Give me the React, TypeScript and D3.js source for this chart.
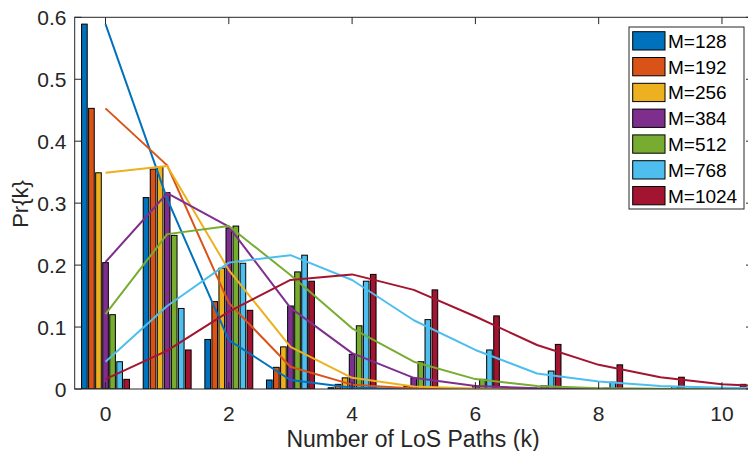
import React from "react";
import * as d3 from "d3";

// Number of LoS paths k (bar groups) and the k values used for the analytic curves
const kBars = [0, 1, 2, 3, 4, 5, 6, 7, 8, 9, 10];
const kLines = [0, 1, 2, 3, 4, 5, 6, 7, 8, 9, 10, 11];

const seriesNames = ["M=128", "M=192", "M=256", "M=384", "M=512", "M=768", "M=1024"];
const seriesColors = ["#0072BD", "#D95319", "#EDB120", "#7E2F8E", "#77AC30", "#4DBEEE", "#A2142F"];

// Simulated Pr{k} (bars)
const simM128 = [0.589, 0.309, 0.08, 0.0145, 0.002, 0.0003, 0, 0, 0, 0, 0];
const simM192 = [0.453, 0.355, 0.141, 0.035, 0.0075, 0.0012, 0.0002, 0, 0, 0, 0];
const simM256 = [0.349, 0.359, 0.195, 0.068, 0.018, 0.004, 0.0008, 0.0001, 0, 0, 0];
const simM384 = [0.204, 0.317, 0.26, 0.134, 0.056, 0.018, 0.005, 0.0012, 0.0003, 0, 0];
const simM512 = [0.12, 0.248, 0.263, 0.189, 0.102, 0.044, 0.0156, 0.005, 0.0013, 0.0003, 0];
const simM768 = [0.044, 0.13, 0.203, 0.216, 0.174, 0.112, 0.063, 0.029, 0.011, 0.004, 0.0012];
const simM1024 = [0.0156, 0.063, 0.127, 0.174, 0.185, 0.16, 0.118, 0.072, 0.039, 0.019, 0.0075];

// Analytic Pr{k} (lines)
const anaM128 = [0.589, 0.307, 0.079, 0.0145, 0.002, 0.0002, 0, 0, 0, 0, 0, 0];
const anaM192 = [0.453, 0.361, 0.139, 0.036, 0.007, 0.001, 0.0002, 0, 0, 0, 0, 0];
const anaM256 = [0.349, 0.36, 0.192, 0.068, 0.018, 0.004, 0.0008, 0.0001, 0, 0, 0, 0];
const anaM384 = [0.205, 0.316, 0.262, 0.131, 0.058, 0.018, 0.005, 0.0012, 0.0003, 0, 0, 0];
const anaM512 = [0.121, 0.25, 0.263, 0.184, 0.098, 0.044, 0.016, 0.005, 0.0013, 0.0003, 0.0001, 0];
const anaM768 = [0.044, 0.134, 0.204, 0.216, 0.176, 0.111, 0.063, 0.025, 0.012, 0.005, 0.002, 0.0007];
const anaM1024 = [0.016, 0.062, 0.125, 0.176, 0.185, 0.16, 0.117, 0.071, 0.039, 0.019, 0.0076, 0.003];

const xTicks = [0, 2, 4, 6, 8, 10];
const yTicks = [0, 0.1, 0.2, 0.3, 0.4, 0.5, 0.6];

const simData = [simM128, simM192, simM256, simM384, simM512, simM768, simM1024];
const anaData = [anaM128, anaM192, anaM256, anaM384, anaM512, anaM768, anaM1024];

const W = 748;
const H = 451;
const FONT = "'Liberation Sans', Arial, Helvetica, sans-serif";
const AX = "#262626";

export default function App() {
  const x = d3.scaleLinear().domain([-0.5, 10.5]).range([74.7, 752.8]);
  const y = d3.scaleLinear().domain([0, 0.6]).range([389, 17.3]);
  const [left, right] = x.range();
  const [bottom, top] = y.range();

  const nSeries = simData.length;
  const groupWidth = 0.8;
  const slot = groupWidth / nSeries;
  const barW = slot * 0.8;

  const line = d3
    .line<number>()
    .x((_, i) => x(kLines[i]))
    .y((d) => y(d));

  const tickLen = 6.8;

  return (
    <svg
      width={W}
      height={H}
      style={{ position: "fixed", left: 0, top: 0, background: "#fff" }}
      fontFamily={FONT}
    >
      <defs>
        <clipPath id="plotClip">
          <rect x={left} y={top} width={right - left} height={bottom - top} />
        </clipPath>
      </defs>
      <rect x={0} y={0} width={W} height={H} fill="#fff" />

      <g clipPath="url(#plotClip)">
        {/* grouped bars */}
        {simData.map((vals, s) =>
          vals.map((v, i) => {
            const cx = kBars[i] + (s - (nSeries - 1) / 2) * slot;
            const x0 = x(cx - barW / 2);
            const x1 = x(cx + barW / 2);
            return (
              <rect
                key={`b${s}-${i}`}
                x={x0}
                y={y(v)}
                width={x1 - x0}
                height={y(0) - y(v)}
                fill={seriesColors[s]}
                stroke="#000"
                strokeWidth={1}
              />
            );
          })
        )}
        {/* analytic curves */}
        {anaData.map((vals, s) => (
          <path
            key={`l${s}`}
            d={line(vals) || ""}
            fill="none"
            stroke={seriesColors[s]}
            strokeWidth={2}
            strokeLinejoin="round"
          />
        ))}
      </g>

      {/* axes box */}
      <rect
        x={left}
        y={top}
        width={right - left}
        height={bottom - top}
        fill="none"
        stroke={AX}
        strokeWidth={1}
      />
      {xTicks.map((t) => (
        <g key={`xt${t}`}>
          <line x1={x(t)} x2={x(t)} y1={bottom} y2={bottom - tickLen} stroke={AX} />
          <line x1={x(t)} x2={x(t)} y1={top} y2={top + tickLen} stroke={AX} />
          <text
            x={x(t)}
            y={420.5}
            textAnchor="middle"
            fontSize={21}
            fill={AX}
          >
            {t}
          </text>
        </g>
      ))}
      {yTicks.map((t) => (
        <g key={`yt${t}`}>
          <line x1={left} x2={left + tickLen} y1={y(t)} y2={y(t)} stroke={AX} />
          <line x1={right} x2={right - tickLen} y1={y(t)} y2={y(t)} stroke={AX} />
          <text
            x={66.5}
            y={y(t)}
            dy="0.36em"
            textAnchor="end"
            fontSize={21}
            fill={AX}
          >
            {t === 0 ? "0" : t.toFixed(1)}
          </text>
        </g>
      ))}

      <text x={413} y={447} textAnchor="middle" fontSize={23} fill={AX}>
        Number of LoS Paths (k)
      </text>
      <text
        transform="translate(28,204) rotate(-90)"
        textAnchor="middle"
        fontSize={22}
        fill={AX}
      >
        Pr{"{"}k{"}"}
      </text>

      {/* legend */}
      <g>
        <rect x={629} y={27} width={115} height={182} fill="#fff" stroke={AX} strokeWidth={1} />
        {seriesNames.map((name, i) => {
          const yy = 31.7 + i * 25.8;
          return (
            <g key={name}>
              <rect
                x={632.7}
                y={yy}
                width={32.3}
                height={18.3}
                fill={seriesColors[i]}
                stroke="#000"
                strokeWidth={1}
              />
              <text x={668} y={yy + 9.2} dy="0.36em" fontSize={19} fill="#000">
                {name}
              </text>
            </g>
          );
        })}
      </g>
    </svg>
  );
}
